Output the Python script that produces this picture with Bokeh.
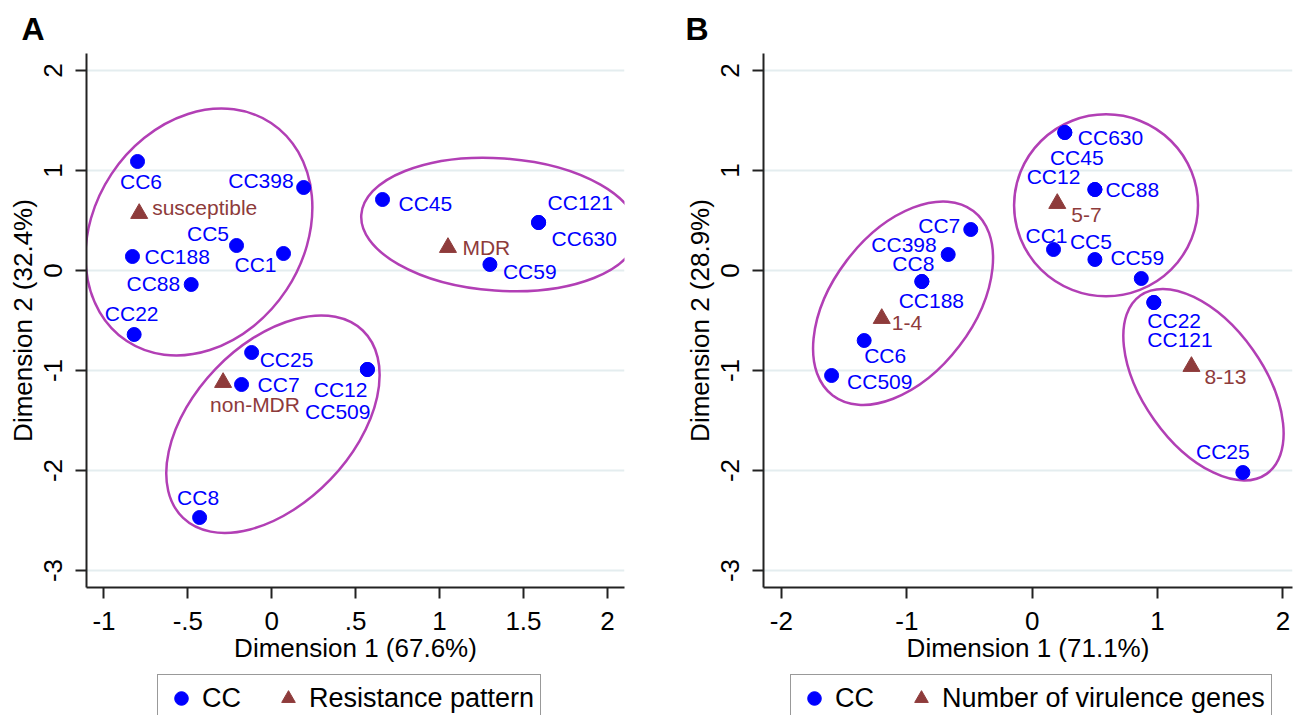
import numpy as np
from bokeh.plotting import figure
from bokeh.models import ColumnDataSource, FixedTicker, Legend, LegendItem, Range1d
from bokeh.layouts import row, column
from bokeh.core.properties import value
from bokeh.embed import file_html
from bokeh.resources import INLINE

FONT = "Liberation Sans"
BLUE = "#0000ff"
RED = "#8e3b3b"
PURPLE = "#b23fb5"
GRID = "#e4edef"
AXIS = "#222222"

# ---------------- Panel A: CC vs resistance pattern ----------------
a_cc = ["CC6", "CC398", "CC5", "CC1", "CC188", "CC88", "CC22", "CC45",
        "CC121", "CC630", "CC59", "CC25", "CC7", "CC12", "CC509", "CC8"]
a_dim1 = [-0.80, 0.19, -0.21, 0.07, -0.83, -0.48, -0.82, 0.66,
          1.59, 1.59, 1.30, -0.12, -0.18, 0.57, 0.57, -0.43]
a_dim2 = [1.09, 0.83, 0.25, 0.17, 0.14, -0.14, -0.64, 0.71,
          0.48, 0.48, 0.06, -0.82, -1.14, -0.99, -0.99, -2.47]
a_pattern = ["susceptible", "MDR", "non-MDR"]
a_pattern_dim1 = [-0.79, 1.05, -0.29]
a_pattern_dim2 = [0.57, 0.23, -1.12]
a_xticks = [-1, -0.5, 0, 0.5, 1, 1.5, 2]
a_xtick_labels = ["-1", "-.5", "0", ".5", "1", "1.5", "2"]
a_xtitle = "Dimension 1 (67.6%)"
a_ytitle = "Dimension 2 (32.4%)"
a_legend = "Resistance pattern"

# ---------------- Panel B: CC vs number of virulence genes ----------------
b_cc = ["CC630", "CC45", "CC88", "CC12", "CC1", "CC5", "CC59", "CC22",
        "CC121", "CC7", "CC398", "CC8", "CC188", "CC6", "CC509", "CC25"]
b_dim1 = [0.26, 0.26, 0.50, 0.50, 0.17, 0.50, 0.87, 0.97,
          0.97, -0.49, -0.67, -0.88, -0.88, -1.34, -1.60, 1.68]
b_dim2 = [1.38, 1.38, 0.81, 0.81, 0.21, 0.11, -0.08, -0.32,
          -0.32, 0.41, 0.16, -0.11, -0.11, -0.70, -1.05, -2.02]
b_genes = ["1-4", "5-7", "8-13"]
b_genes_dim1 = [-1.20, 0.20, 1.27]
b_genes_dim2 = [-0.48, 0.67, -0.96]
b_xticks = [-2, -1, 0, 1, 2]
b_xtick_labels = ["-2", "-1", "0", "1", "2"]
b_xtitle = "Dimension 1 (71.1%)"
b_ytitle = "Dimension 2 (28.9%)"
b_legend = "Number of virulence genes"

yticks = [-3, -2, -1, 0, 1, 2]
ytick_labels = ["-3", "-2", "-1", "0", "1", "2"]

# ---------------- cluster ellipses (center, full axes, angle in degrees) ----------------
a_clusters = dict(x=[-0.434, 1.357, 0.007], y=[0.385, 0.46, -1.537],
                  w=[1.558, 1.651, 1.547], h=[2.10, 1.324, 1.594],
                  angle=[56.5, -4.0, 46.2])
b_clusters = dict(x=[-1.030, 0.589, 1.366], y=[-0.327, 0.652, -1.142],
                  w=[1.850, 1.467, 1.743], h=[1.414, 1.82, 1.21],
                  angle=[52.7, 0.0, -54.7])

# ---------------- marker-label placement (align, dx px, dy px; dy>0 = down) ----------------
a_cc_place = [("center", 3.5, 20), ("right", -10, -7), ("right", -7.5, -12),
              ("right", -7, 10.5), ("left", 12, 0), ("right", -11, -1),
              ("center", -2.5, -21.5), ("left", 16, 4), ("left", 9, -20),
              ("left", 13, 15.5), ("left", 13, 6.5), ("left", 8, 7),
              ("left", 16, 0), ("right", 0, 20), ("right", 3, 41.5),
              ("center", -1.5, -20.5)]
a_grp_place = [("left", 13, -6), ("left", 14.5, 0), ("left", -13, 22)]

b_cc_place = [("left", 13, 4.5), ("center", 12, 24.5), ("left", 10.5, 0),
              ("right", -14.5, -13), ("right", 14, -14), ("center", -4, -18),
              ("center", -4, -21), ("left", -6.5, 18), ("left", -6.5, 37),
              ("right", -10.5, -4), ("right", -11.5, -10), ("right", 12.5, -18),
              ("center", 9.5, 18.5), ("left", 0, 15), ("left", 15.5, 5.5),
              ("center", -20, -21)]
b_grp_place = [("left", 10, 4), ("left", 14, 11), ("left", 13, 10)]

MAIN_H = 672
LEG_H = 43


def tick_key(t):
    return int(t) if float(t).is_integer() else float(t)


def make_panel(tag, title_offset, cc, d1, d2, cc_place, grp, g1, g2, grp_place,
               clusters, xrange_, xticks, xlabels, xtitle, ytitle,
               width, border_left, border_right):
    p = figure(width=width, height=MAIN_H, x_range=xrange_, y_range=(-3.17, 2.17),
               output_backend="svg", toolbar_location=None,
               min_border_left=border_left, min_border_right=border_right,
               min_border_top=53, min_border_bottom=MAIN_H - 53 - 534)
    p.outline_line_color = None
    p.background_fill_color = "white"
    p.border_fill_color = "white"

    p.title.text = tag
    p.title.text_font = FONT
    p.title.text_font_size = "32px"
    p.title.text_font_style = "bold"
    p.title.text_color = "black"
    p.title.align = "left"
    p.title.offset = title_offset
    p.title.standoff = 14

    # axes
    p.xaxis.ticker = FixedTicker(ticks=xticks)
    p.xaxis.major_label_overrides = {tick_key(t): l for t, l in zip(xticks, xlabels)}
    p.yaxis.ticker = FixedTicker(ticks=yticks)
    p.yaxis.major_label_overrides = {tick_key(t): l for t, l in zip(yticks, ytick_labels)}
    p.yaxis.major_label_orientation = "vertical"
    p.xaxis.axis_label = xtitle
    p.yaxis.axis_label = ytitle
    for ax in (p.xaxis[0], p.yaxis[0]):
        ax.axis_line_color = AXIS
        ax.axis_line_width = 2
        ax.major_tick_line_color = AXIS
        ax.major_tick_line_width = 2
        ax.major_tick_out = 11
        ax.major_tick_in = 0
        ax.minor_tick_line_color = None
        ax.major_label_text_font = FONT
        ax.major_label_text_font_size = "26px"
        ax.major_label_text_color = "black"
        ax.axis_label_text_font = FONT
        ax.axis_label_text_font_size = "26px"
        ax.axis_label_text_font_style = "normal"
        ax.axis_label_text_color = "black"
    p.xaxis.major_label_standoff = 13
    p.xaxis.axis_label_standoff = 0
    p.yaxis.major_label_standoff = 14
    p.yaxis.axis_label_standoff = 3

    p.xgrid.visible = False
    p.ygrid.ticker = FixedTicker(ticks=yticks)
    p.ygrid.grid_line_color = GRID
    p.ygrid.grid_line_width = 2

    # cluster ellipses
    p.ellipse(x="x", y="y", width="w", height="h", angle="angle", angle_units="deg",
              source=ColumnDataSource(clusters), fill_color=None,
              line_color=PURPLE, line_width=2.5)

    # points
    p.scatter(d1, d2, marker="circle", size=14, fill_color=BLUE, line_color=BLUE)
    p.scatter(g1, g2, marker="triangle", size=17, fill_color=RED, line_color=RED)

    # labels
    src_cc = ColumnDataSource(dict(
        x=d1, y=d2, text=cc,
        align=[a for a, _, _ in cc_place],
        dx=[dx for _, dx, _ in cc_place],
        dy=[dy for _, _, dy in cc_place]))
    p.text(x="x", y="y", text="text", source=src_cc, text_align="align",
           x_offset="dx", y_offset="dy", text_baseline="middle",
           text_font=value(FONT), text_font_size=value("21px"), text_color=BLUE)
    src_grp = ColumnDataSource(dict(
        x=g1, y=g2, text=grp,
        align=[a for a, _, _ in grp_place],
        dx=[dx for _, dx, _ in grp_place],
        dy=[dy for _, _, dy in grp_place]))
    p.text(x="x", y="y", text="text", source=src_grp, text_align="align",
           x_offset="dx", y_offset="dy", text_baseline="middle",
           text_font=value(FONT), text_font_size=value("21px"), text_color=RED)
    return p


def make_legend(width, legend_label, legend_x):
    lf = figure(width=width, height=LEG_H, x_range=Range1d(0, 1), y_range=Range1d(0, 1),
                output_backend="svg", toolbar_location=None, min_border=0,
                x_axis_location=None, y_axis_location=None)
    lf.outline_line_color = None
    lf.grid.visible = False
    lf.background_fill_color = "white"
    lf.border_fill_color = "white"
    # legend-key renderers: styled like the chart markers, no visible points
    r_cc = lf.scatter([np.nan], [np.nan], marker="circle", size=14,
                      fill_color=BLUE, line_color=BLUE)
    r_grp = lf.scatter([np.nan], [np.nan], marker="triangle", size=17,
                       fill_color=RED, line_color=RED)
    legend = Legend(items=[LegendItem(label="CC", renderers=[r_cc]),
                           LegendItem(label=legend_label, renderers=[r_grp])],
                    orientation="horizontal", location=(legend_x, -7),
                    label_text_font=FONT, label_text_font_size="27px",
                    label_text_color="black", glyph_width=34, glyph_height=34,
                    label_standoff=4, spacing=30, padding=6, margin=0,
                    border_line_color="#333333", border_line_width=1.5,
                    background_fill_color="white", background_fill_alpha=1.0)
    lf.add_layout(legend)
    return lf


pa = make_panel("A", -65, a_cc, a_dim1, a_dim2, a_cc_place,
                a_pattern, a_pattern_dim1, a_pattern_dim2, a_grp_place,
                a_clusters, (-1.104, 2.102), a_xticks, a_xtick_labels,
                a_xtitle, a_ytitle, 650, 86, 26)
pb = make_panel("B", -78, b_cc, b_dim1, b_dim2, b_cc_place,
                b_genes, b_genes_dim1, b_genes_dim2, b_grp_place,
                b_clusters, (-2.143, 2.076), b_xticks, b_xtick_labels,
                b_xtitle, b_ytitle, 643, 113, 1)
la = make_legend(650, a_legend, 157)
lb = make_legend(643, b_legend, 140)

layout = column(row(pa, pb), row(la, lb))
open("out.html", "w").write(file_html(layout, INLINE))
